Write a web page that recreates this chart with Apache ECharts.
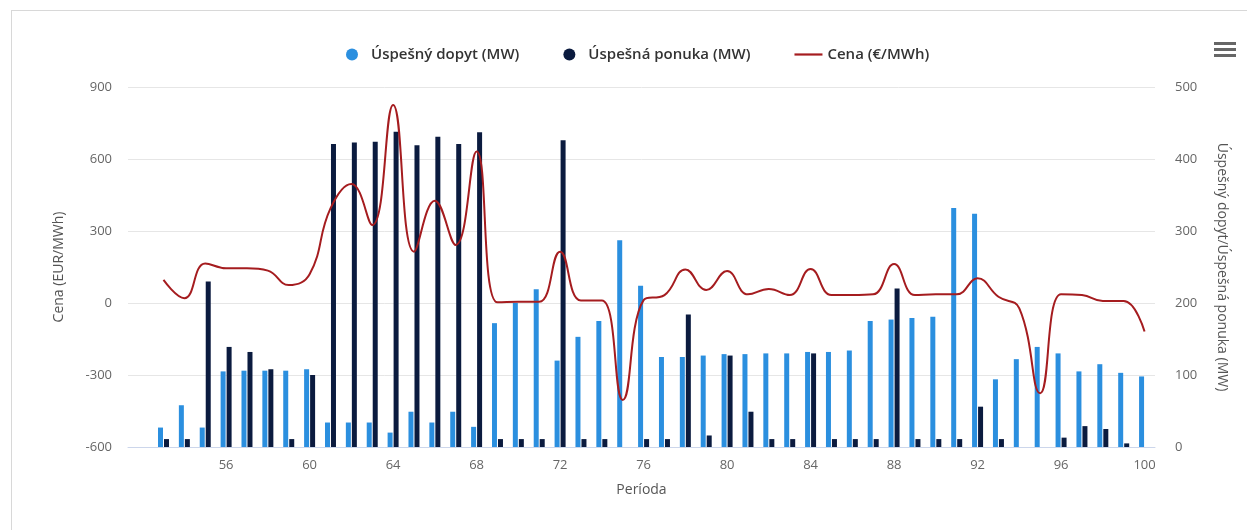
<!DOCTYPE html>
<html>
<head>
<meta charset="utf-8">
<script src="https://cdn.jsdelivr.net/npm/echarts@6/dist/echarts.min.js"></script>
<style>
html,body{margin:0;padding:0;background:#fff;overflow:hidden;}
#frame{position:absolute;left:11px;top:10px;width:1260px;height:540px;border-left:1px solid #d8d8d8;border-top:1px solid #d8d8d8;}
#chart{position:absolute;left:0;top:0;width:1247px;height:530px;}
</style>
</head>
<body>
<div id="frame"></div>
<div id="chart"></div>
<script>
const periods = [53,54,55,56,57,58,59,60,61,62,63,64,65,66,67,68,69,70,71,72,73,74,75,76,77,78,79,80,81,82,83,84,85,86,87,88,89,90,91,92,93,94,95,96,97,98,99,100];
const demand = [27,58,27,105,106,106,106,108,34,34,34,20,49,34,49,28,172,200,219,120,153,175,287,224,125,125,127,129,129,130,130,132,132,134,175,177,179,181,332,324,94,122,139,130,105,115,103,98];
const supply = [11,11,230,139,132,108,11,100,421,423,424,438,419,431,421,437,11,11,11,426,11,11,0,11,11,184,16,127,49,11,11,130,11,11,11,220,11,11,11,56,11,0,0,13,29,25,5,0];
const price = [96,20,165,145,145,135,75,120,394,496,325,825,214,426,242,631,3,5,5,214,10,10,-404,12,33,140,54,133,36,58,33,142,33,33,36,162,33,36,36,103,26,-22,-376,36,33,8,8,-119];
const xTicks = [56,60,64,68,72,76,80,84,88,92,96,100];
const leftTicks = [-600,-300,0,300,600,900];
const rightTicks = [0,100,200,300,400,500];

const FONT = '"Open Sans", "DejaVu Sans", sans-serif';
const chart = echarts.init(document.getElementById('chart'), null, {renderer:'canvas'});
const pair = arr => periods.map((p,i)=>[p, arr[i]]);

chart.setOption({
  animation:false,
  textStyle:{fontFamily:FONT},
  legend:{
    top:42, left:341, itemGap:44, itemWidth:28, itemHeight:12,
    textStyle:{fontFamily:FONT, fontSize:15, color:'#333', fontWeight:600},
    data:[
      {name:'Úspešný dopyt (MW)', icon:'circle'},
      {name:'Úspešná ponuka (MW)', icon:'circle'},
      {name:'Cena (€/MWh)', icon:'path://M0,0H28V2.2H0Z'}
    ]
  },
  grid:{left:128, right:92, top:87, bottom:83},
  xAxis:{
    type:'value', min:51.3, max:100.5,
    name:'Períoda', nameLocation:'middle', nameGap:36,
    nameTextStyle:{fontFamily:FONT, fontSize:14, color:'#555'},
    axisLine:{show:true, onZero:false, lineStyle:{color:'#ccd6eb'}},
    axisTick:{show:false, customValues:xTicks},
    axisLabel:{customValues:xTicks, color:'#666', fontSize:13, margin:12, fontFamily:FONT},
    splitLine:{show:false}
  },
  yAxis:[
    {
      type:'value', min:leftTicks[0], max:leftTicks[leftTicks.length-1], interval:300,
      position:'left',
      name:'Cena (EUR/MWh)', nameLocation:'middle', nameGap:62,
      nameTextStyle:{fontFamily:FONT, fontSize:14, color:'#555'},
      axisLine:{show:false}, axisTick:{show:false},
      axisLabel:{color:'#666', fontSize:13, margin:16, fontFamily:FONT},
      splitLine:{show:true, lineStyle:{color:'#e6e6e6'}}
    },
    {
      type:'value', min:rightTicks[0], max:rightTicks[rightTicks.length-1], interval:100,
      position:'right',
      name:'Úspešný dopyt/Úspešná ponuka (MW)', nameLocation:'middle', nameGap:60, nameRotate:-90,
      nameTextStyle:{fontFamily:FONT, fontSize:14, color:'#555'},
      axisLine:{show:false}, axisTick:{show:false},
      axisLabel:{color:'#666', fontSize:13, margin:20, fontFamily:FONT},
      splitLine:{show:false}
    }
  ],
  series:[
    {name:'Úspešný dopyt (MW)', type:'bar', yAxisIndex:1, data:pair(demand),
     barWidth:5, barGap:'20%', itemStyle:{color:'#2b8fdf'}},
    {name:'Úspešná ponuka (MW)', type:'bar', yAxisIndex:1, data:pair(supply),
     barWidth:5, barGap:'20%', itemStyle:{color:'#0b1b3f'}},
    {name:'Cena (€/MWh)', type:'line', yAxisIndex:0, data:pair(price),
     smooth:0.45, showSymbol:false, symbol:'none',
     lineStyle:{color:'#a51c1f', width:2}, itemStyle:{color:'#a51c1f'}, z:5}
  ],
  graphic:[
    {type:'rect', left:1214, top:42, shape:{width:22, height:3}, style:{fill:'#666'}},
    {type:'rect', left:1214, top:48, shape:{width:22, height:3}, style:{fill:'#666'}},
    {type:'rect', left:1214, top:54, shape:{width:22, height:3}, style:{fill:'#666'}}
  ]
});
</script>
</body>
</html>
